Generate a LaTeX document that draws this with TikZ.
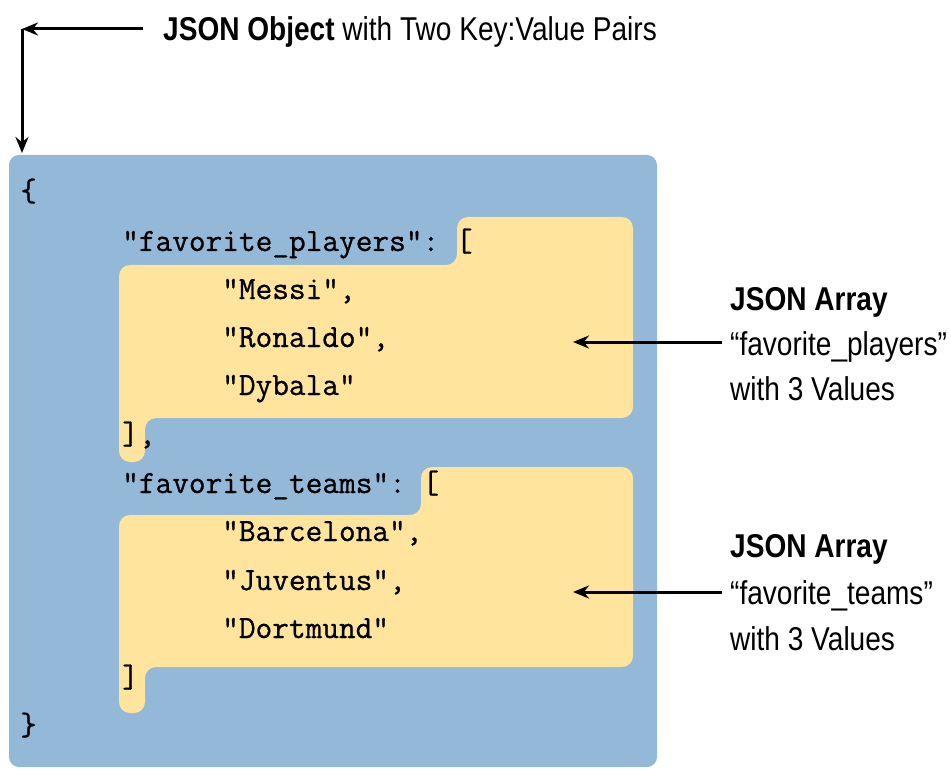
\documentclass[tikz,border=0pt]{standalone}
\usepackage{fontspec}
\setmainfont[FakeStretch=0.85]{Liberation Sans}
\setmonofont[FakeBold=0.8]{Latin Modern Mono}
\usetikzlibrary{arrows.meta}
\definecolor{objblue}{RGB}{147,184,216}
\definecolor{arryellow}{RGB}{254,228,157}
\tikzset{
  code/.style={anchor=base west, inner sep=0pt, font=\ttfamily\fontsize{32.4}{38}\selectfont},
  label/.style={anchor=base west, inner sep=0pt, font=\fontsize{33}{38}\selectfont},
  pointer/.style={line width=3pt, -{Stealth[length=16pt,width=13pt]}},
}
\begin{document}
\begin{tikzpicture}[x=1pt,y=-1pt]
\useasboundingbox (0,0) rectangle (951,770);
% object box
\fill[objblue, rounded corners=10pt] (9,155) rectangle (657,767);
% array backgrounds
\fill[arryellow, rounded corners=11pt]
  (457,217) -- (633,217) -- (633,418) -- (145,418) -- (145,462) -- (119,462) -- (119,265) -- (457,265) -- cycle;
\fill[arryellow, rounded corners=11pt]
  (421,467) -- (633,467) -- (633,667) -- (145,667) -- (145,713) -- (119,713) -- (119,515) -- (421,515) -- cycle;
% code
\node[code] (open) at (20,201) {\{};
\node[code] (k1) at (122,251) {"favorite\_players": [};
\node[code] (v11) at (222,299) {"Messi",};
\node[code] (v12) at (222,347) {"Ronaldo",};
\node[code] (v13) at (222,395) {"Dybala"};
\node[code] (c1) at (122,444) {],};
\node[code] (k2) at (122,493) {"favorite\_teams": [};
\node[code] (v21) at (222,541) {"Barcelona",};
\node[code] (v22) at (222,590) {"Juventus",};
\node[code] (v23) at (222,638) {"Dortmund"};
\node[code] (c2) at (122,687) {]};
\node[code] (close) at (20,735) {\}};
% title
\node[label] (title) at (163,41) {\textbf{JSON Object} with Two Key:Value Pairs};
\coordinate (corner) at (22,29);
\coordinate (objtop) at (22,153);
\draw[pointer] (title.west |- corner) ++(-20,0) -- (corner);
\draw[pointer] (corner) -- (objtop);
% right labels
\node[label] (a1a) at (730,310) {\textbf{JSON Array}};
\node[label] (a1b) at (730,355) {“favorite\_players”};
\node[label] (a1c) at (730,400) {with 3 Values};
\node[label] (a2a) at (730,557) {\textbf{JSON Array}};
\node[label] (a2b) at (730,604) {“favorite\_teams”};
\node[label] (a2c) at (730,650) {with 3 Values};
\coordinate (t1) at (573,342);
\coordinate (t2) at (573,592);
\draw[pointer] (a1b.west |- t1) ++(-8,0) -- (t1);
\draw[pointer] (a2b.west |- t2) ++(-8,0) -- (t2);
\end{tikzpicture}
\end{document}
